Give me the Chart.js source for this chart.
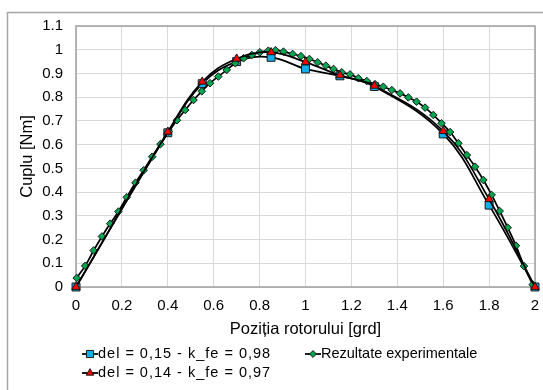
<!DOCTYPE html>
<html>
<head>
  <meta charset="utf-8" />
  <script src="https://cdn.jsdelivr.net/npm/chart.js@4.4.1/dist/chart.umd.min.js"></script>
  <style>
    html,body{margin:0;padding:0;background:#fff;}
    #wrap{width:543px;height:390px;position:relative;}
  </style>
</head>
<body>
<div id="wrap"><canvas id="chart" width="543" height="390"></canvas></div>

<script>
/* ---------- Data ---------- */
const legendLabels = ['del = 0,15 - k_fe = 0,98', 'Rezultate experimentale', 'del = 0,14 - k_fe = 0,97'];

const simX   = [0, 0.4, 0.55, 0.7, 0.85, 1.0, 1.15, 1.3, 1.6, 1.8, 2.0];
const delA_Y = [0, 0.650, 0.857, 0.950, 0.968, 0.919, 0.890, 0.845, 0.645, 0.345, 0];
const delB_Y = [0, 0.654, 0.865, 0.962, 0.989, 0.948, 0.892, 0.848, 0.657, 0.370, 0];

const expX = [0.003, 0.040, 0.077, 0.113, 0.149, 0.185, 0.221, 0.259, 0.295, 0.332,
              0.368, 0.404, 0.440, 0.476, 0.512, 0.548, 0.584, 0.620, 0.657, 0.694,
              0.730, 0.766, 0.801, 0.838, 0.869, 0.904, 0.944, 0.980, 1.017, 1.053,
              1.089, 1.122, 1.158, 1.194, 1.230, 1.267, 1.303, 1.339, 1.376, 1.412,
              1.448, 1.484, 1.521, 1.557, 1.593, 1.630, 1.666, 1.703, 1.739, 1.775,
              1.811, 1.846, 1.881, 1.917, 1.952, 1.990];
const expY = [0.038, 0.089, 0.154, 0.213, 0.267, 0.318, 0.378, 0.439, 0.492, 0.549,
              0.602, 0.655, 0.703, 0.746, 0.788, 0.825, 0.859, 0.887, 0.915, 0.943,
              0.964, 0.978, 0.989, 0.996, 0.998, 0.992, 0.982, 0.973, 0.961, 0.947,
              0.933, 0.919, 0.905, 0.896, 0.880, 0.868, 0.855, 0.844, 0.830, 0.816,
              0.799, 0.781, 0.756, 0.725, 0.690, 0.653, 0.606, 0.556, 0.507, 0.451,
              0.388, 0.320, 0.250, 0.174, 0.088, 0.010];

/* ---------- Styles ---------- */
const FONT = 'Liberation Sans, Arial, sans-serif';
const C_BLUE = '#12aeea', C_RED = '#ff0000', C_GREEN = '#00a550', C_EDGE = '#1a1a1a';

const pts = (xs, ys) => xs.map((x, i) => ({ x: x, y: ys[i] }));

// lower "order" is painted on top
function series(label, data, fill, style, r, order){
  return {
    label: label, data: data, order: order, clip: false,
    borderColor: '#000', borderWidth: 1.75, tension: 0.4,
    pointStyle: style, pointRadius: r, pointHoverRadius: r,
    pointBackgroundColor: fill, pointBorderColor: C_EDGE, pointBorderWidth: 1,
    fill: false
  };
}

/* ---------- Frame + legend plugin ---------- */
const framePlugin = {
  id: 'frame',
  beforeDraw(chart){
    const ctx = chart.ctx;
    ctx.save();
    ctx.fillStyle = '#fff';
    ctx.fillRect(0, 0, chart.width, chart.height);
    ctx.strokeStyle = '#a6a6a6';
    ctx.lineWidth = 1.5;
    ctx.strokeRect(7.5, 12.5, 560, 420);
    ctx.restore();
  },
  beforeDatasetsDraw(chart){
    const a = chart.chartArea, ctx = chart.ctx;
    ctx.save();
    ctx.strokeStyle = '#a0a0a0';
    ctx.lineWidth = 1.5;
    ctx.strokeRect(a.left, a.top, a.right - a.left, a.bottom - a.top);
    ctx.restore();
  },
  afterDraw(chart){
    const ctx = chart.ctx;
    const items = [
      { ds: 0, x: 90,  y: 354 },
      { ds: 1, x: 313, y: 354 },
      { ds: 2, x: 90,  y: 373 }
    ];
    ctx.save();
    items.forEach(it => {
      const ds = chart.data.datasets[it.ds];
      ctx.strokeStyle = '#000';
      ctx.lineWidth = 1.75;
      ctx.beginPath();
      ctx.moveTo(it.x - 8, it.y);
      ctx.lineTo(it.x + 8, it.y);
      ctx.stroke();
      ctx.fillStyle = ds.pointBackgroundColor;
      ctx.strokeStyle = C_EDGE;
      ctx.lineWidth = 1;
      Chart.helpers.drawPoint(ctx, { pointStyle: ds.pointStyle, radius: ds.pointRadius * 0.9, borderWidth: 1 }, it.x, it.y);
      ctx.fillStyle = '#000';
      ctx.font = '14.5px ' + FONT;
      ctx.textAlign = 'left';
      ctx.textBaseline = 'middle';
      ctx.letterSpacing = it.ds === 1 ? '0px' : '1px';
      ctx.fillText(legendLabels[it.ds], it.x + 8, it.y);
    });
    ctx.restore();
  }
};

/* ---------- Chart ---------- */
const fmt = v => String(Number(v.toFixed(1)));

new Chart(document.getElementById('chart'), {
  type: 'line',
  data: {
    datasets: [
      series(legendLabels[0], pts(simX, delA_Y), C_BLUE, 'rect', 5.6, 3),
      series(legendLabels[1], pts(expX, expY), C_GREEN, 'rectRot', 3.8, 2),
      series(legendLabels[2], pts(simX, delB_Y), C_RED, 'triangle', 4.8, 1)
    ]
  },
  options: {
    responsive: false,
    animation: false,
    events: [],
    layout: { padding: { left: 18, right: 8, top: 26, bottom: 51 } },
    plugins: { legend: { display: false }, tooltip: { enabled: false } },
    scales: {
      x: {
        type: 'linear', min: 0, max: 2,
        border: { display: false },
        grid: { color: '#d9d9d9', lineWidth: 1, drawTicks: false },
        ticks: { stepSize: 0.2, padding: 10, color: '#000', font: { family: FONT, size: 15 }, callback: fmt, maxRotation: 0 },
        title: { display: true, text: 'Poziția rotorului [grd]', color: '#000', padding: 0,
                 font: { family: FONT, size: 16.5, lineHeight: 1.2 } },
        afterFit(s){ s.height = 52; s.paddingLeft = 0; s.paddingRight = 0; }
      },
      y: {
        type: 'linear', min: 0, max: 1.1,
        border: { display: false },
        grid: { color: '#d9d9d9', lineWidth: 1, drawTicks: false },
        ticks: { stepSize: 0.1, padding: 13, color: '#000', font: { family: FONT, size: 15 }, callback: fmt },
        title: { display: true, text: 'Cuplu [Nm]', color: '#000', padding: 0,
                 font: { family: FONT, size: 16.5, lineHeight: 1.2 } },
        afterFit(s){ s.width = 58; s.paddingTop = 0; s.paddingBottom = 0; }
      }
    }
  },
  plugins: [framePlugin]
});
</script>
</body>
</html>
